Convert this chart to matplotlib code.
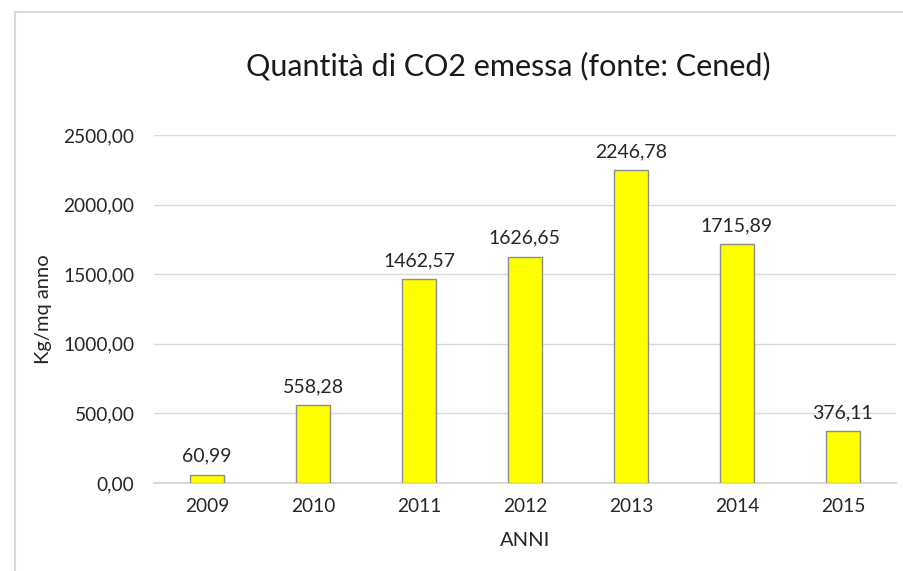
import matplotlib
matplotlib.use("Agg")
import matplotlib.pyplot as plt
from matplotlib.lines import Line2D

anni = ["2009", "2010", "2011", "2012", "2013", "2014", "2015"]
co2 = [60.99, 558.28, 1462.57, 1626.65, 2246.78, 1715.89, 376.11]
y_ticks = [0, 500, 1000, 1500, 2000, 2500]

plt.rcParams["font.family"] = ["Lato", "DejaVu Sans"]

def virgola(v):
    return f"{v:.2f}".replace(".", ",")

fig = plt.figure(figsize=(9.04, 5.71), dpi=100)
ax = fig.add_axes([0.1704, 0.1541, 0.8206, 0.6095])

x = range(len(anni))
ax.bar(x, co2, width=0.32, color="#ffff00", edgecolor="#8c8c8c", linewidth=1, zorder=3)

for i, v in zip(x, co2):
    ax.annotate(virgola(v), (i, v), xytext=(0, 7), textcoords="offset points",
                ha="center", va="bottom", fontsize=14, color="#262626")

ax.set_xlim(-0.5, len(anni) - 0.5)
ax.set_ylim(0, 2500)
ax.set_yticks(y_ticks)
ax.set_yticklabels([virgola(t) for t in y_ticks])
ax.set_xticks(list(x))
ax.set_xticklabels(anni)
ax.tick_params(length=0, labelsize=13.8, labelcolor="#262626")
ax.tick_params(axis="y", pad=14)
ax.tick_params(axis="x", pad=11)
ax.grid(axis="y", color="#d9d9d9", linewidth=1, zorder=0)
for s in ["top", "right", "left"]:
    ax.spines[s].set_visible(False)
ax.spines["bottom"].set_color("#d9d9d9")
ax.spines["bottom"].set_linewidth(1.5)

ax.set_xlabel("ANNI", fontsize=14.5, color="#262626", labelpad=12)
ax.set_ylabel("Kg/mq anno", fontsize=14.5, color="#262626", labelpad=8)

fig.text(0.562, 0.885, "Quantità di CO2 emessa (fonte: Cened)", ha="center", va="center",
         fontsize=22, color="#1a1a1a")

# cornice del grafico
fig.add_artist(Line2D([15 / 904, 1], [1 - 12 / 571, 1 - 12 / 571], color="#d9d9d9", linewidth=1.5))
fig.add_artist(Line2D([15 / 904, 15 / 904], [0, 1 - 12 / 571], color="#d9d9d9", linewidth=1.5))

fig.savefig("out.png", dpi=100)
